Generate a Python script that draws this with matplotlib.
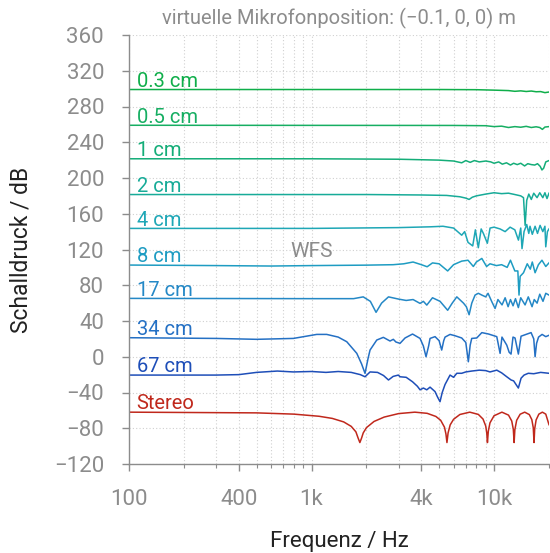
import matplotlib
matplotlib.use("Agg")
import matplotlib.pyplot as plt
from matplotlib.ticker import FixedLocator, NullFormatter

# ---------------- data ----------------
labels = ["0.3 cm", "0.5 cm", "1 cm", "2 cm", "4 cm", "8 cm", "17 cm", "34 cm", "67 cm", "Stereo"]
colors = ["#0fae4a", "#16ae62", "#14ad78", "#17ab98", "#1ea7b6", "#1e9cc2", "#2488c6",
          "#2470c4", "#1e4eb8", "#c0281c"]

f_03 = [100, 5000, 8000, 10000, 12000, 13000, 14000, 15000, 16000, 17000, 18000, 19000, 20000]
d_03 = [299, 299, 298.8, 298.3, 297.8, 297, 297.5, 296.8, 297.3, 296.5, 296.7, 295.5, 296.2]

f_05 = [100, 6000, 9000, 10000, 11000, 12000, 13000, 14000, 15000, 16000, 17000, 17800, 18400,
        19000, 20000]
d_05 = [259, 258.8, 258.5, 257.5, 258, 256.5, 257.5, 256.8, 257.8, 256.5, 257.3, 256.5, 254.4,
        257, 257.5]

f_1 = [100, 1000, 3000, 5000, 6000, 6650, 7000, 7400, 7800, 8300, 9000, 9600, 10000, 10600,
       11100, 11700, 12300, 12800, 13400, 14000, 14700, 15300, 16000, 16700, 17300, 17900,
       18300, 18700, 19200, 20000]
d_1 = [221.5, 221.5, 221, 220, 219, 217, 219.5, 217.5, 219.5, 218, 219, 218, 216.5, 218,
       215.5, 217, 214.5, 216.5, 215, 216.5, 213.5, 216, 215, 214.5, 216, 213, 209, 211, 218, 219.5]

f_2 = [100, 2000, 4000, 5500, 6500, 7000, 7300, 7600, 8000, 9000, 10000, 11000, 12000, 13000,
       14000, 14500, 14800, 15100, 15500, 16000, 16500, 17200, 17800, 18500, 19000, 19500, 20000]
d_2 = [181.5, 181.5, 181, 180.5, 179, 177.5, 176, 178.5, 180, 182, 183.5, 182.5, 183, 181.5,
       180, 178, 147, 175, 182, 176, 183, 178, 183.5, 178, 183.5, 177, 183]

f_4 = [100, 1000, 3000, 4500, 5250, 6000, 6650, 6900, 7200, 7640, 7900, 8200, 8500, 8740, 9190,
       9510, 10000, 10790, 11500, 12240, 13000, 13600, 14000, 14230, 14600, 15100, 15500, 15740,
       16200, 16780, 17300, 17870, 18500, 19000, 19200, 19600, 20000]
d_4 = [143.6, 143.6, 144.5, 145.4, 146, 144, 136, 140, 128, 124, 142, 122, 143, 138, 127,
       144, 145, 143, 140, 145, 142, 130.5, 144, 121, 140, 148, 138, 146, 137, 146, 138, 147,
       140, 146, 123, 140, 143]

f_8 = [100, 300, 600, 1000, 2000, 2800, 3200, 3600, 4000, 4300, 4600, 5000, 5570, 6000, 6650,
       7200, 7700, 8000, 8570, 9100, 9500, 10300, 11000, 11800, 12300, 13000, 13500, 13700,
       13900, 14500, 15200, 15800, 16200, 16780, 17500, 18300, 19200, 20000]
d_8 = [102.6, 102, 101.5, 102, 102.5, 103, 104, 106, 103, 100.7, 105, 104, 96, 103, 107, 108,
       101, 106, 110, 101, 104, 102, 103, 100, 108, 96, 96, 69, 90, 94, 104, 98, 106, 94, 103,
       108, 101, 105]

f_17 = [100, 1000, 1700, 1920, 2100, 2257, 2420, 2640, 3000, 3300, 3600, 3930, 4100, 4280,
        4600, 5060, 5570, 5900, 6250, 6800, 7050, 7300, 7550, 7870, 8200, 8570, 9000, 9270,
        9700, 10130, 10500, 11060, 11500, 11940, 12300, 12710, 13100, 13590, 14000, 14790,
        15400, 16150, 16600, 17210, 17800, 18540, 19200, 20000]
d_17 = [65.3, 65, 65, 67, 62, 49.7, 60, 67, 64.5, 63, 64, 59.7, 62, 57.8, 66, 62, 52, 60, 67,
        60, 56, 47, 60, 69, 71, 69, 67, 71, 62, 54, 64, 58, 66, 56, 64, 57, 65, 55, 66, 58, 67,
        56, 64, 60, 70, 62, 71, 69]

f_34 = [100, 300, 500, 795, 1068, 1211, 1400, 1560, 1770, 1880, 1964, 2040, 2092, 2277, 2474,
        2692, 2806, 2900, 3054, 3254, 3576, 3932, 4100, 4240, 4380, 4460, 4750, 5000, 5166,
        5300, 5390, 5741, 6113, 6650, 7000, 7230, 7400, 7545, 8038, 8570, 9304, 10350, 10790,
        11050, 11740, 12100, 12390, 12700, 13030, 13590, 14060, 14970, 15950, 16500, 16780,
        17100, 17530, 18330, 19200, 20000]
d_34 = [21.3, 20.5, 19.5, 20.5, 25, 25, 22, 16.8, 3.8, -8, -18.6, -2, 7.5, 18.7, 21.7, 17.6,
        19.5, 16.5, 15, 21, 25.4, 20.5, 12, 0, 12, 20.5, 22.5, 18, 7.5, 18, 22, 25, 23.5, 21,
        16, -5.6, 13, 20.5, 21, 27, 25.5, 22.5, 3.8, 22, 13, 5, 3, 22, 21, 3, 23, 25, 27, 20, 0,
        15, 22, 25, 22.5, 24]

f_67 = [100, 300, 400, 500, 650, 795, 1000, 1200, 1400, 1650, 1850, 1964, 2092, 2300, 2480,
        2640, 2800, 2990, 3054, 3300, 3576, 3800, 3932, 4100, 4280, 4460, 4750, 4900, 5058,
        5200, 5390, 5741, 6000, 6250, 6650, 7000, 7545, 8300, 9000, 9500, 10350, 11000, 11740,
        12400, 12800, 13590, 14060, 14600, 15400, 16500, 18000, 20000]
d_67 = [-20.5, -20.5, -20, -17.5, -16, -17, -16.5, -17.5, -16.5, -17.5, -20, -22.4, -17,
        -17.5, -21, -26, -22, -20.5, -22.4, -23, -28, -33, -37, -35, -37, -34, -39, -45, -50.3,
        -40, -31, -20.5, -23, -18.5, -18.5, -17, -16, -15, -15.5, -17, -15, -18, -22.4, -26,
        -27, -35, -24, -20.5, -18.5, -19, -17.5, -18.5]

f_st = [100, 500, 800, 1100, 1300, 1500, 1650, 1750, 1800, 1840, 1880, 1920, 2000, 2200, 2500,
        3000, 3680, 4300, 4800, 5100, 5350, 5450, 5520, 5600, 5750, 6000, 6500, 7360, 8200,
        8700, 9000, 9120, 9200, 9300, 9500, 10000, 11040, 12000, 12500, 12750, 12880, 13000,
        13300, 13900, 14720, 15600, 16100, 16400, 16560, 16700, 17000, 17600, 18400, 19200,
        20000]
d_st = [-62, -62.8, -64.2, -66.6, -69, -72.9, -77.9, -84, -91, -96, -91, -85.2, -79.3, -72.4,
        -67.5, -63.6, -62, -63.3, -66.8, -71.1, -78.8, -86.4, -96, -85.2, -76.2, -70, -64.6,
        -62, -64.5, -69.7, -77.4, -85.2, -96, -83.4, -73.9, -66, -62, -65.3, -71.9, -81.2, -96,
        -81.7, -71.1, -64.3, -62, -64.7, -70.3, -79.4, -96, -80.5, -70.7, -64.2, -62, -64.2, -76]

series_f = [f_03, f_05, f_1, f_2, f_4, f_8, f_17, f_34, f_67, f_st]
series_d = [d_03, d_05, d_1, d_2, d_4, d_8, d_17, d_34, d_67, d_st]

yticks = [-120, -80, -40, 0, 40, 80, 120, 160, 200, 240, 280, 320, 360]
xticks = [100, 400, 1000, 4000, 10000]
xticklabels = ["100", "400", "1k", "4k", "10k"]
xminor = [200, 300, 500, 600, 700, 800, 900, 2000, 3000, 5000, 6000, 7000, 8000, 9000, 20000]

title = "virtuelle Mikrofonposition: (\u22120.1, 0, 0) m"
xlabel = "Frequenz / Hz"
ylabel = "Schalldruck / dB"

# ---------------- plotting ----------------
plt.rcParams['font.family'] = ['Roboto', 'DejaVu Sans']
grey = "#8c8c8c"

fig = plt.figure(figsize=(5.5, 5.53), dpi=100)
ax = fig.add_axes([129 / 550, 89 / 553, 420 / 550, 429 / 553])

for fs, ds, c in zip(series_f, series_d, colors):
    ax.plot(fs, ds, color=c, lw=1.1, solid_joinstyle='round')

for lab, ds, c in zip(labels, series_d, colors):
    ax.text(110, ds[0] + 3, lab, color=c, fontsize=14.5, va='baseline', ha='left')

ax.text(1000, 118, "WFS", color=grey, fontsize=15, ha='center', va='center')

ax.set_xscale('log')
ax.set_xlim(100, 20000)
ax.set_ylim(-120, 360)
ax.xaxis.set_major_locator(FixedLocator(xticks))
ax.set_xticklabels(xticklabels)
ax.xaxis.set_minor_locator(FixedLocator(xminor))
ax.xaxis.set_minor_formatter(NullFormatter())
ax.set_yticks(yticks)
ax.set_yticklabels([f"{v}".replace("-", "\u2212") for v in yticks])

ax.grid(True, which='both', axis='x', color='#d0d0d0', linestyle=(0, (1, 2)), lw=0.8)
ax.grid(True, which='major', axis='y', color='#d0d0d0', linestyle=(0, (1, 2)), lw=0.8)
ax.set_axisbelow(True)

for s in ['top', 'right']:
    ax.spines[s].set_visible(False)
for s in ['left', 'bottom']:
    ax.spines[s].set_color(grey)
    ax.spines[s].set_linewidth(1.0)

ax.tick_params(axis='both', which='major', colors=grey, labelsize=16, length=5, width=1,
               direction='out')
ax.tick_params(axis='x', which='major', pad=13)
ax.tick_params(axis='x', which='minor', colors=grey, length=3, width=0.8)
ax.tick_params(axis='y', which='major', pad=13)

ax.set_xlabel(xlabel, fontsize=16, color='#222222', labelpad=15)
ax.set_ylabel(ylabel, fontsize=16.5, color='#222222', labelpad=15)
ax.set_title(title, fontsize=14.5, color=grey, pad=8)

fig.savefig("out.png", dpi=100)
